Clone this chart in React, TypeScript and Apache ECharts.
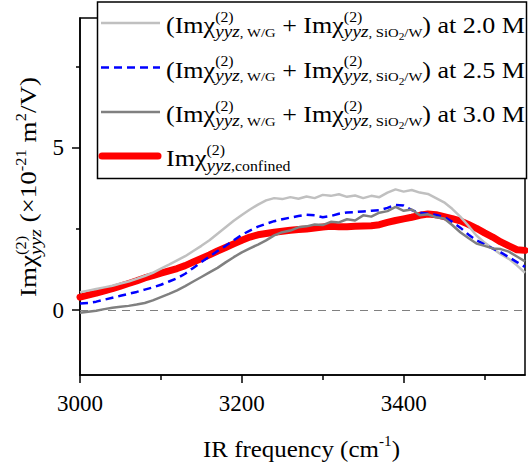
import React, { useEffect, useRef } from 'react';
import * as echarts from 'echarts';

const FREQ = [3000, 3010, 3020, 3030, 3040, 3050, 3060, 3070, 3080, 3090, 3100, 3110, 3120, 3130, 3140, 3150, 3160, 3170, 3180, 3190, 3200, 3210, 3220, 3230, 3240, 3250, 3260, 3270, 3280, 3290, 3300, 3310, 3320, 3330, 3340, 3350, 3360, 3370, 3380, 3390, 3400, 3410, 3420, 3430, 3440, 3450, 3460, 3470, 3480, 3490, 3500, 3510, 3520, 3530, 3540, 3550];

const SUM_2_0 = [0.55, 0.6, 0.65, 0.7, 0.75, 0.82, 0.88, 0.96, 1.05, 1.15, 1.28, 1.4, 1.53, 1.66, 1.82, 1.98, 2.15, 2.35, 2.55, 2.75, 2.93, 3.1, 3.25, 3.38, 3.45, 3.42, 3.48, 3.43, 3.5, 3.45, 3.55, 3.52, 3.57, 3.49, 3.53, 3.45, 3.52, 3.48, 3.62, 3.72, 3.65, 3.7, 3.62, 3.58, 3.45, 3.32, 3.12, 2.88, 2.6, 2.3, 2.08, 1.9, 1.72, 1.58, 1.38, 1.15];

const SUM_2_5 = [0.2, 0.22, 0.26, 0.32, 0.38, 0.44, 0.5, 0.56, 0.63, 0.7, 0.78, 0.88, 0.98, 1.12, 1.3, 1.48, 1.65, 1.82, 1.98, 2.15, 2.32, 2.45, 2.57, 2.66, 2.74, 2.8, 2.85, 2.9, 2.94, 2.92, 2.86, 2.9, 2.97, 3.01, 3.02, 3.04, 3.06, 3.08, 3.15, 3.24, 3.22, 3.08, 3.0, 2.97, 2.93, 2.87, 2.72, 2.54, 2.33, 2.15, 2.02, 1.9, 1.78, 1.63, 1.48, 1.33];

const SUM_3_0 = [-0.08, -0.05, -0.02, 0.03, 0.07, 0.1, 0.13, 0.17, 0.22, 0.3, 0.4, 0.5, 0.61, 0.74, 0.88, 1.02, 1.16, 1.3, 1.47, 1.63, 1.78, 1.9, 2.02, 2.15, 2.3, 2.4, 2.45, 2.55, 2.58, 2.64, 2.62, 2.72, 2.7, 2.8, 2.76, 2.92, 2.88, 3.0, 3.05, 3.18, 3.06, 3.1, 2.92, 2.95, 2.86, 2.82, 2.62, 2.4, 2.22, 2.05, 1.98, 1.9, 1.88, 1.8, 1.65, 1.5];

const CONFINED = [0.4, 0.46, 0.52, 0.59, 0.66, 0.74, 0.82, 0.9, 0.99, 1.06, 1.14, 1.21, 1.28, 1.37, 1.48, 1.59, 1.7, 1.82, 1.93, 2.04, 2.15, 2.25, 2.32, 2.36, 2.4, 2.43, 2.46, 2.48, 2.5, 2.53, 2.56, 2.58, 2.57, 2.57, 2.58, 2.59, 2.6, 2.63, 2.7, 2.76, 2.81, 2.86, 2.92, 2.96, 2.94, 2.88, 2.82, 2.75, 2.64, 2.52, 2.38, 2.25, 2.1, 1.98, 1.86, 1.84];

const X_MAJOR = [3000, 3200, 3400];
const X_MINOR = [3100, 3300, 3500];
const Y_MAJOR = [0, 5];
const Y_MINOR = [2.5, 7.5];
const CONCENTRATIONS = ['2.0 M', '2.5 M', '3.0 M'];
const SERIES_NAMES = [
  '(Imχ(2)yyz,W/G + Imχ(2)yyz,SiO2/W) at 2.0 M',
  '(Imχ(2)yyz,W/G + Imχ(2)yyz,SiO2/W) at 2.5 M',
  '(Imχ(2)yyz,W/G + Imχ(2)yyz,SiO2/W) at 3.0 M',
  'Imχ(2)yyz,confined',
];
const COLORS = ['#c0c0c0', '#0000ff', '#808080', '#ff0000'];

const SERIF = 'Liberation Serif, Times New Roman, serif';

type Run = { t: string; size: number; italic?: boolean; dy?: number };
type Item = Run | { sup: Run[]; sub: Run[] };

let mctx: CanvasRenderingContext2D | null = null;
function fontOf(r: Run) {
  return `${r.italic ? 'italic ' : ''}${r.size}px ${SERIF}`;
}
function measure(r: Run) {
  if (!mctx) mctx = document.createElement('canvas').getContext('2d');
  mctx!.font = fontOf(r);
  return mctx!.measureText(r.t).width;
}
function runEl(r: Run, x: number) {
  return {
    type: 'text',
    x,
    y: (r.dy || 0) - 0.34 * r.size,
    silent: true,
    style: {
      text: r.t,
      fontSize: r.size,
      fontFamily: SERIF,
      fontStyle: r.italic ? 'italic' : 'normal',
      fill: '#000',
      align: 'left',
      verticalAlign: 'middle',
    },
  };
}
function layout(items: Item[]) {
  const els: any[] = [];
  let x = 0;
  for (const it of items) {
    if ('t' in it) {
      els.push(runEl(it, x));
      x += measure(it);
    } else {
      let w1 = 0;
      for (const r of it.sup) {
        els.push(runEl(r, x + w1));
        w1 += measure(r);
      }
      let w2 = 0;
      for (const r of it.sub) {
        els.push(runEl(r, x + w2));
        w2 += measure(r);
      }
      x += Math.max(w1, w2);
    }
  }
  return { els, width: x };
}

const SUP: Run = { t: '(2)', size: 14, dy: -11 };
const subRuns = (rest: Run[]): Run[] => [{ t: 'yyz', size: 17, italic: true, dy: 4 }, { t: ', ', size: 13, dy: 4 }, ...rest];

function sumItems(conc: string): Item[] {
  return [
    { t: '(Imχ', size: 23 },
    { sup: [SUP], sub: subRuns([{ t: 'W/G', size: 13, dy: 4 }]) },
    { t: ' + Imχ', size: 23 },
    {
      sup: [SUP],
      sub: subRuns([
        { t: 'SiO', size: 13, dy: 4 },
        { t: '2', size: 10, dy: 7 },
        { t: '/W', size: 13, dy: 4 },
      ]),
    },
    { t: ') at ' + conc, size: 23 },
  ];
}
const confinedItems: Item[] = [
  { t: 'Imχ', size: 23 },
  { sup: [SUP], sub: [{ t: 'yyz', size: 17, italic: true, dy: 5 }, { t: ',confined', size: 14, dy: 5 }] },
];
const yNameItems: Item[] = [
  { t: 'Imχ', size: 23 },
  { sup: [SUP], sub: [{ t: 'yyz', size: 17, italic: true, dy: 4 }] },
  { t: ' (×10', size: 23 },
  { t: '-21', size: 14, dy: -11 },
  { t: ' m', size: 23 },
  { t: '2', size: 14, dy: -11 },
  { t: '/V)', size: 23 },
];
const xNameItems: Item[] = [
  { t: 'IR frequency (cm', size: 23 },
  { t: '-1', size: 14, dy: -11 },
  { t: ')', size: 23 },
];

export default function App() {
  const ref = useRef<HTMLDivElement>(null);
  useEffect(() => {
    if (!ref.current) return;
    const chart = echarts.init(ref.current, undefined, { renderer: 'svg' });

    const rows = [...CONCENTRATIONS.map((c) => layout(sumItems(c))), layout(confinedItems)];
    const legendScale = 359 / rows[0].width;
    const rowBase = [33, 77.5, 122, 166];
    const legendX = 166;
    const legendEls: any[] = [
      {
        type: 'rect',
        shape: { x: 97.5, y: 2, width: 429, height: 176.5 },
        style: { fill: '#fff', stroke: '#000', lineWidth: 1.5 },
        silent: true,
      },
    ];
    rows.forEach((row, i) => {
      const ly = rowBase[i] - 10;
      const isRed = i === 3;
      legendEls.push({
        type: 'line',
        shape: { x1: isRed ? 102 : 101, y1: ly, x2: isRed ? 158 : 160, y2: ly },
        style: {
          stroke: COLORS[i],
          lineWidth: isRed ? 7 : 2.5,
          lineDash: i === 1 ? [8, 5] : null,
          lineCap: isRed ? 'round' : 'butt',
        },
        silent: true,
      });
      legendEls.push({
        type: 'group',
        x: legendX,
        y: rowBase[i],
        scaleX: legendScale,
        children: row.els,
      });
    });

    const yName = layout(yNameItems);
    const xName = layout(xNameItems);

    const axisFont = { fontFamily: SERIF, fontSize: 23, color: '#000', formatter: (v: number) => String(v) };
    const lineSeries = (idx: number, data: number[], extra: any = {}) => ({
      name: SERIES_NAMES[idx],
      type: 'line',
      xAxisIndex: 0,
      yAxisIndex: 0,
      data: FREQ.map((f, k) => [f, data[k]]),
      showSymbol: false,
      symbol: 'none',
      lineStyle: { color: COLORS[idx], width: 2.5, ...(extra.lineStyle || {}) },
      itemStyle: { color: COLORS[idx] },
      z: extra.z ?? 3,
      ...(extra.markLine ? { markLine: extra.markLine } : {}),
    });

    chart.setOption({
      animation: false,
      backgroundColor: '#fff',
      grid: {
        left: 80,
        right: 3,
        top: 18,
        bottom: 95,
        show: true,
        borderColor: '#000',
        borderWidth: 1.5,
        backgroundColor: 'transparent',
      },
      xAxis: [
        {
          type: 'value',
          min: 3000,
          max: 3550,
          position: 'bottom',
          axisLine: { show: true, onZero: false, lineStyle: { color: '#000', width: 1.5 } },
          axisTick: { show: true, length: 8, customValues: X_MAJOR, lineStyle: { color: '#000', width: 1.5 } },
          axisLabel: { customValues: X_MAJOR, margin: 17, ...axisFont },
          splitLine: { show: false },
        },
        {
          type: 'value',
          min: 3000,
          max: 3550,
          position: 'bottom',
          axisLine: { show: false, onZero: false },
          axisTick: { show: true, length: 5, customValues: X_MINOR, lineStyle: { color: '#000', width: 1.5 } },
          axisLabel: { show: false },
          splitLine: { show: false },
        },
      ],
      yAxis: [
        {
          type: 'value',
          min: -2,
          max: 9,
          position: 'left',
          axisLine: { show: true, onZero: false, lineStyle: { color: '#000', width: 1.5 } },
          axisTick: { show: true, length: 8, customValues: Y_MAJOR, lineStyle: { color: '#000', width: 1.5 } },
          axisLabel: { customValues: Y_MAJOR, margin: 16, ...axisFont },
          splitLine: { show: false },
        },
        {
          type: 'value',
          min: -2,
          max: 9,
          position: 'left',
          axisLine: { show: false, onZero: false },
          axisTick: { show: true, length: 4, customValues: Y_MINOR, lineStyle: { color: '#000', width: 1.5 } },
          axisLabel: { show: false },
          splitLine: { show: false },
        },
      ],
      series: [
        lineSeries(3, CONFINED, {
          lineStyle: { width: 7, cap: 'round', join: 'round' },
          z: 2,
          markLine: {
            silent: true,
            symbol: 'none',
            label: { show: false },
            lineStyle: { color: '#808080', type: [8, 6], width: 1.2 },
            data: [{ yAxis: 0 }],
          },
        }),
        lineSeries(0, SUM_2_0, { z: 3 }),
        lineSeries(1, SUM_2_5, { lineStyle: { type: [8, 5] }, z: 4 }),
        lineSeries(2, SUM_3_0, { z: 5 }),
      ],
      graphic: [
        { type: 'group', z: 100, children: legendEls },
        {
          type: 'group',
          x: 36.5,
          y: 297,
          rotation: Math.PI / 2,
          scaleX: 220 / yName.width,
          children: yName.els,
        },
        {
          type: 'group',
          x: 203,
          y: 457,
          scaleX: 197 / xName.width,
          children: xName.els,
        },
      ],
    });
    return () => chart.dispose();
  }, []);
  return (
    <div
      ref={ref}
      style={{ position: 'absolute', left: 0, top: 0, width: 528, height: 470 }}
    />
  );
}
